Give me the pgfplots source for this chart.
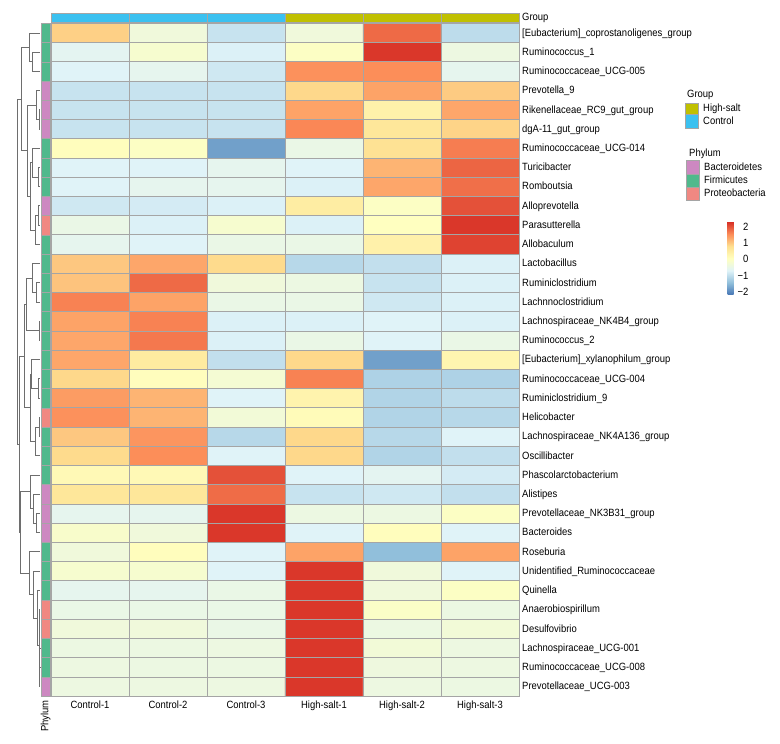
\documentclass[border=0pt]{standalone}
\usepackage{fontspec}
\setmainfont{Liberation Sans}[FakeStretch=0.9]
\usepackage{pgfplots}
\pgfplotsset{compat=1.18}

\definecolor{ctrl}{RGB}{59,193,240}
\definecolor{hsalt}{RGB}{192,192,0}
\definecolor{bact}{RGB}{205,136,193}
\definecolor{firm}{RGB}{80,185,140}
\definecolor{prot}{RGB}{240,136,130}
\definecolor{cellgrid}{RGB}{165,165,165}
\definecolor{dendro}{RGB}{110,110,110}

\pgfplotsset{
  colormap={rdylbu}{rgb255=(69,117,180) rgb255=(145,191,219) rgb255=(224,243,248)
    rgb255=(255,255,191) rgb255=(254,224,144) rgb255=(252,141,89) rgb255=(215,48,39)}
}

\newcommand\lab{\fontsize{10.5bp}{12bp}\selectfont}
% dendrogram join: height, child1 height, child1 row, child2 height, child2 row (heights in px)
\newcommand\mrg[5]{\draw[dendro, line width=0.8bp]
  (#2-51,{672.7-19.22*(#3+0.5)}) -- (#1-51,{672.7-19.22*(#3+0.5)})
  -- (#1-51,{672.7-19.22*(#5+0.5)}) -- (#4-51,{672.7-19.22*(#5+0.5)});}
% phylum strip run: first row, last row, colour
\newcommand\phy[3]{\addplot[draw=cellgrid, line width=0.4bp, fill=#3, mark=none]
  coordinates {(-0.628,#1) (-0.513,#1) (-0.513,#2) (-0.628,#2)} -- cycle;}

\begin{document}
\begin{tikzpicture}[x=1bp,y=1bp]
\begin{axis}[
    at={(0,0)}, anchor=south west,
    scale only axis, width=468bp, height=672.7bp,
    xmin=-0.5, xmax=5.5, ymin=-0.5, ymax=34.5,
    y dir=reverse, enlargelimits=false,
    clip=false, axis on top,
    colormap name=rdylbu,
    point meta min=-2.18, point meta max=2.3,
    xtick={0,...,5},
    xticklabels={Control-1,Control-2,Control-3,High-salt-1,High-salt-2,High-salt-3},
    ytick={0,...,34},
    yticklabels={
      {[Eubacterium]\_coprostanoligenes\_group},
      Ruminococcus\_1,
      Ruminococcaceae\_UCG-005,
      Prevotella\_9,
      Rikenellaceae\_RC9\_gut\_group,
      dgA-11\_gut\_group,
      Ruminococcaceae\_UCG-014,
      Turicibacter,
      Romboutsia,
      Alloprevotella,
      Parasutterella,
      Allobaculum,
      Lactobacillus,
      Ruminiclostridium,
      Lachnnoclostridium,
      Lachnospiraceae\_NK4B4\_group,
      Ruminococcus\_2,
      {[Eubacterium]\_xylanophilum\_group},
      Ruminococcaceae\_UCG-004,
      Ruminiclostridium\_9,
      Helicobacter,
      Lachnospiraceae\_NK4A136\_group,
      Oscillibacter,
      Phascolarctobacterium,
      Alistipes,
      Prevotellaceae\_NK3B31\_group,
      Bacteroides,
      Roseburia,
      Unidentified\_Ruminococcaceae,
      Quinella,
      Anaerobiospirillum,
      Desulfovibrio,
      Lachnospiraceae\_UCG-001,
      Ruminococcaceae\_UCG-008,
      Prevotellaceae\_UCG-003},
    yticklabel pos=right,
    major tick length=0pt, minor tick length=0pt,
    minor xtick={-0.5,0.5,...,5.5},
    minor ytick={-0.5,0.5,...,34.5},
    xminorgrids, yminorgrids,
    minor grid style={cellgrid, line width=0.5bp},
    axis line style={cellgrid, line width=0.5bp},
    tick label style={font=\lab, inner sep=0pt, text height=1.5ex, text depth=0.25ex},
    yticklabel style={anchor=west, xshift=3bp},
    xticklabel style={anchor=north, yshift=-4.5bp},
    colorbar,
    colorbar style={
        at={(parent axis.south west)}, anchor=north west,
        xshift=668bp, yshift=474bp,
        width=6bp, height=73bp,
        ytick={-2,-1,0,1,2},
        yticklabels={−2,−1,0,1,2},
        major tick length=0pt,
        axis line style={draw=none},
        yticklabel style={font=\lab, anchor=east, inner sep=0pt, xshift=15bp},
    },
]

% heatmap, row z-scores (columns: Control-1..3, High-salt-1..3)
\addplot[matrix plot*, mesh/cols=6, point meta=explicit] coordinates {
(0,0)[0.95] (1,0)[-0.3] (2,0)[-0.92] (3,0)[-0.3] (4,0)[1.84] (5,0)[-1.02]
(0,1)[-0.6] (1,1)[-0.15] (2,1)[-0.72] (3,1)[0.0] (4,1)[2.25] (5,1)[-0.38]
(0,2)[-0.68] (1,2)[-0.55] (2,2)[-0.85] (3,2)[1.52] (4,2)[1.55] (5,2)[-0.55]
(0,3)[-0.92] (1,3)[-0.92] (2,3)[-0.92] (3,3)[0.88] (4,3)[1.36] (5,3)[1.0]
(0,4)[-0.92] (1,4)[-0.92] (2,4)[-0.92] (3,4)[1.36] (4,4)[0.4] (5,4)[1.33]
(0,5)[-0.92] (1,5)[-0.92] (2,5)[-0.92] (3,5)[1.6] (4,5)[0.65] (5,5)[0.92]
(0,6)[0.1] (1,6)[0.0] (2,6)[-1.75] (3,6)[-0.45] (4,6)[0.75] (5,6)[1.68]
(0,7)[-0.68] (1,7)[-0.68] (2,7)[-0.55] (3,7)[-0.68] (4,7)[1.2] (5,7)[1.88]
(0,8)[-0.68] (1,8)[-0.55] (2,8)[-0.55] (3,8)[-0.72] (4,8)[1.33] (5,8)[1.8]
(0,9)[-0.85] (1,9)[-0.8] (2,9)[-0.72] (3,9)[0.5] (4,9)[0.0] (5,9)[2.04]
(0,10)[-0.45] (1,10)[-0.72] (2,10)[-0.15] (3,10)[-0.72] (4,10)[0.05] (5,10)[2.25]
(0,11)[-0.55] (1,11)[-0.68] (2,11)[-0.45] (3,11)[-0.45] (4,11)[0.4] (5,11)[2.15]
(0,12)[1.03] (1,12)[1.33] (2,12)[0.85] (3,12)[-1.07] (4,12)[-0.97] (5,12)[-0.72]
(0,13)[1.07] (1,13)[1.84] (2,13)[-0.3] (3,13)[-0.4] (4,13)[-0.92] (5,13)[-0.72]
(0,14)[1.64] (1,14)[1.36] (2,14)[-0.45] (3,14)[-0.45] (4,14)[-0.85] (5,14)[-0.72]
(0,15)[1.36] (1,15)[1.64] (2,15)[-0.72] (3,15)[-0.72] (4,15)[-0.68] (5,15)[-0.72]
(0,16)[1.33] (1,16)[1.72] (2,16)[-0.72] (3,16)[-0.45] (4,16)[-0.68] (5,16)[-0.45]
(0,17)[1.33] (1,17)[0.55] (2,17)[-0.97] (3,17)[0.88] (4,17)[-1.75] (5,17)[0.3]
(0,18)[0.88] (1,18)[0.1] (2,18)[-0.2] (3,18)[1.64] (4,18)[-1.16] (5,18)[-1.16]
(0,19)[1.42] (1,19)[1.2] (2,19)[-0.68] (3,19)[0.35] (4,19)[-1.13] (5,19)[-1.02]
(0,20)[1.52] (1,20)[1.2] (2,20)[-0.25] (3,20)[0.15] (4,20)[-1.13] (5,20)[-1.07]
(0,21)[1.03] (1,21)[1.48] (2,21)[-1.07] (3,21)[0.88] (4,21)[-1.07] (5,21)[-0.68]
(0,22)[0.85] (1,22)[1.55] (2,22)[-0.68] (3,22)[0.88] (4,22)[-1.13] (5,22)[-0.97]
(0,23)[0.2] (1,23)[0.2] (2,23)[2.04] (3,23)[-0.68] (4,23)[-0.6] (5,23)[-0.8]
(0,24)[0.65] (1,24)[0.65] (2,24)[1.82] (3,24)[-0.92] (4,24)[-0.85] (5,24)[-0.97]
(0,25)[-0.55] (1,25)[-0.55] (2,25)[2.25] (3,25)[-0.4] (4,25)[-0.4] (5,25)[0.0]
(0,26)[-0.1] (1,26)[-0.3] (2,26)[2.25] (3,26)[-0.68] (4,26)[0.1] (5,26)[-0.68]
(0,27)[-0.3] (1,27)[0.1] (2,27)[-0.68] (3,27)[1.36] (4,27)[-1.43] (5,27)[1.36]
(0,28)[-0.15] (1,28)[-0.15] (2,28)[-0.68] (3,28)[2.25] (4,28)[-0.3] (5,28)[-0.68]
(0,29)[-0.55] (1,29)[-0.55] (2,29)[-0.45] (3,29)[2.25] (4,29)[-0.3] (5,29)[0.0]
(0,30)[-0.45] (1,30)[-0.45] (2,30)[-0.45] (3,30)[2.25] (4,30)[-0.05] (5,30)[-0.4]
(0,31)[-0.3] (1,31)[-0.3] (2,31)[-0.45] (3,31)[2.25] (4,31)[-0.4] (5,31)[-0.25]
(0,32)[-0.4] (1,32)[-0.4] (2,32)[-0.38] (3,32)[2.25] (4,32)[-0.25] (5,32)[-0.38]
(0,33)[-0.38] (1,33)[-0.4] (2,33)[-0.4] (3,33)[2.25] (4,33)[-0.35] (5,33)[-0.38]
(0,34)[-0.38] (1,34)[-0.38] (2,34)[-0.38] (3,34)[2.25] (4,34)[-0.38] (5,34)[-0.4]
};

% group strip
\addplot[draw=cellgrid, line width=0.4bp, fill=ctrl, mark=none] coordinates {(-0.5,-1.05) (0.5,-1.05) (0.5,-0.568) (-0.5,-0.568)} -- cycle;
\addplot[draw=cellgrid, line width=0.4bp, fill=ctrl, mark=none] coordinates {(0.5,-1.05) (1.5,-1.05) (1.5,-0.568) (0.5,-0.568)} -- cycle;
\addplot[draw=cellgrid, line width=0.4bp, fill=ctrl, mark=none] coordinates {(1.5,-1.05) (2.5,-1.05) (2.5,-0.568) (1.5,-0.568)} -- cycle;
\addplot[draw=cellgrid, line width=0.4bp, fill=hsalt, mark=none] coordinates {(2.5,-1.05) (3.5,-1.05) (3.5,-0.568) (2.5,-0.568)} -- cycle;
\addplot[draw=cellgrid, line width=0.4bp, fill=hsalt, mark=none] coordinates {(3.5,-1.05) (4.5,-1.05) (4.5,-0.568) (3.5,-0.568)} -- cycle;
\addplot[draw=cellgrid, line width=0.4bp, fill=hsalt, mark=none] coordinates {(4.5,-1.05) (5.5,-1.05) (5.5,-0.568) (4.5,-0.568)} -- cycle;

% phylum strip
\phy{-0.5}{2.5}{firm}
\phy{2.5}{5.5}{bact}
\phy{5.5}{8.5}{firm}
\phy{8.5}{9.5}{bact}
\phy{9.5}{10.5}{prot}
\phy{10.5}{19.5}{firm}
\phy{19.5}{20.5}{prot}
\phy{20.5}{23.5}{firm}
\phy{23.5}{26.5}{bact}
\phy{26.5}{29.5}{firm}
\phy{29.5}{31.5}{prot}
\phy{31.5}{33.5}{firm}
\phy{33.5}{34.5}{bact}
\pgfplotsinvokeforeach{0,...,33}{
  \draw[cellgrid, line width=0.4bp] (axis cs:-0.628,#1+0.5) -- (axis cs:-0.513,#1+0.5);
}
\end{axis}

% row dendrogram
\mrg{32}{40}{1}{40}{2}
\mrg{29}{40}{0}{32}{1.5}
\mrg{39}{40}{4}{40}{5}
\mrg{36}{40}{3}{39}{4.5}
\mrg{38}{40}{7}{40}{8}
\mrg{32}{40}{6}{38}{7.5}
\mrg{38}{40}{9}{40}{10}
\mrg{35}{38}{9.5}{40}{11}
\mrg{30}{32}{6.75}{35}{10.25}
\mrg{27}{36}{3.75}{30}{8.5}
\mrg{21}{29}{0.75}{27}{6.125}
\mrg{36}{40}{13}{40}{14}
\mrg{32}{40}{12}{36}{13.5}
\mrg{39}{40}{15}{40}{16}
\mrg{26}{32}{12.75}{39}{15.5}
\mrg{38}{40}{18}{40}{19}
\mrg{31}{40}{17}{38}{18.5}
\mrg{39}{40}{20}{40}{21}
\mrg{35}{39}{20.5}{40}{22}
\mrg{30}{31}{17.75}{35}{21.25}
\mrg{24}{26}{14.125}{30}{19.5}
\mrg{36}{40}{25}{40}{26}
\mrg{33}{40}{24}{36}{25.5}
\mrg{30}{40}{23}{33}{24.75}
\mrg{39.6}{40}{32}{40}{33}
\mrg{39.3}{39.6}{32.5}{40}{34}
\mrg{39.4}{40}{30}{40}{31}
\mrg{39}{39.4}{30.5}{39.3}{33.25}
\mrg{37.5}{40}{29}{39}{31.875}
\mrg{33}{40}{28}{37.5}{30.4375}
\mrg{29}{40}{27}{33}{29.21875}
\mrg{20}{30}{23.875}{29}{28.109}
\mrg{19}{24}{16.8125}{20}{25.99}
\mrg{17}{21}{3.4375}{19}{21.4}

% annotation labels
\tikzset{lbl/.style={font=\lab, inner sep=0pt, text height=1.5ex, text depth=0.25ex, anchor=west}}
\node[lbl] at (471,679) {Group};
\node[lbl, rotate=90, anchor=east] at (-6,-4) {Phylum};

% legend: group
\node[lbl] at (636,602) {Group};
\draw[cellgrid, line width=0.4bp, fill=hsalt] (634,593) rectangle (647,582);
\draw[cellgrid, line width=0.4bp, fill=ctrl] (634,582) rectangle (647,568);
\node[lbl] at (652,587.5) {High-salt};
\node[lbl] at (652,575) {Control};
% legend: phylum
\node[lbl] at (638,543) {Phylum};
\draw[cellgrid, line width=0.4bp, fill=bact] (635,536) rectangle (648,522);
\draw[cellgrid, line width=0.4bp, fill=firm] (635,522) rectangle (648,509);
\draw[cellgrid, line width=0.4bp, fill=prot] (635,509) rectangle (648,496);
\node[lbl] at (653,529) {Bacteroidetes};
\node[lbl] at (653,515.5) {Firmicutes};
\node[lbl] at (653,502.5) {Proteobacteria};

\pgfresetboundingbox
\path[use as bounding box] (-51,-48) rectangle (729,696);
\end{tikzpicture}
\end{document}
